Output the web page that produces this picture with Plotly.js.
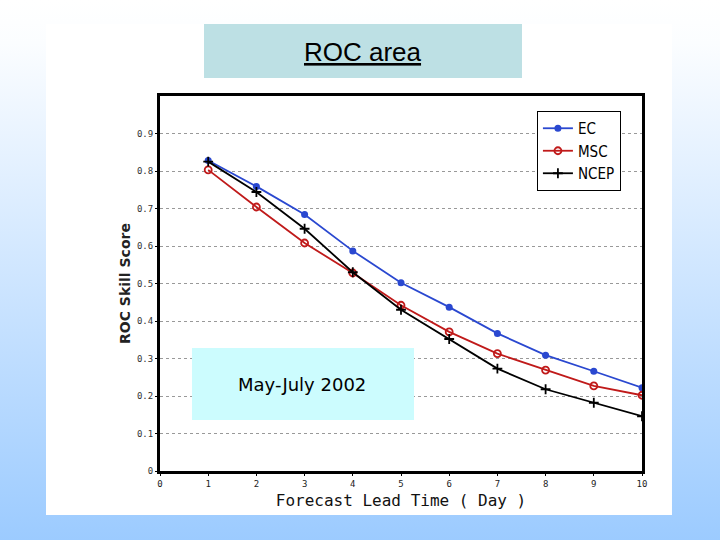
<!DOCTYPE html>
<html>
<head>
<meta charset="utf-8">
<script src="https://cdn.plot.ly/plotly-3.0.1.min.js"></script>
<style>
  html, body { margin: 0; padding: 0; }
  body { width: 720px; height: 540px; background: linear-gradient(to bottom, #ffffff 0%, #fbfdff 8%, #9ccbff 100%); }
  #chart { width: 720px; height: 540px; }
</style>
</head>
<body>
<div id="chart"></div>
<script>
// Data
const leadDays = [1, 2, 3, 4, 5, 6, 7, 8, 9, 10];
const ecScores   = [0.828, 0.759, 0.684, 0.587, 0.502, 0.437, 0.367, 0.309, 0.266, 0.222];
const mscScores  = [0.803, 0.704, 0.608, 0.528, 0.442, 0.371, 0.313, 0.269, 0.227, 0.202];
const ncepScores = [0.825, 0.744, 0.646, 0.530, 0.430, 0.352, 0.273, 0.218, 0.182, 0.146];
const seriesNames = ['EC', 'MSC', 'NCEP'];
const xTickVals = [0, 1, 2, 3, 4, 5, 6, 7, 8, 9, 10];
const yTickVals = [0, 0.1, 0.2, 0.3, 0.4, 0.5, 0.6, 0.7, 0.8, 0.9];
const yTickText = ['0', '0.1', '0.2', '0.3', '0.4', '0.5', '0.6', '0.7', '0.8', '0.9'];
const chartTitle = 'ROC area';
const periodLabel = 'May-July 2002';
const xTitle = 'Forecast Lead Time ( Day )';
const yTitle = 'ROC Skill Score';

const legendFont = {family: '"Liberation Sans Narrow", "Arial Narrow", "DejaVu Sans Condensed", sans-serif', size: 15, color: '#000'};

const traces = [
  {
    x: leadDays, y: ecScores, name: seriesNames[0], mode: 'lines+markers',
    line: {color: '#2a48d0', width: 1.8},
    marker: {symbol: 'circle', size: 7, color: '#2a48d0'}
  },
  {
    x: leadDays, y: mscScores, name: seriesNames[1], mode: 'lines+markers',
    line: {color: '#c01a1a', width: 1.8},
    marker: {symbol: 'circle-open', size: 7, color: '#c01a1a', line: {width: 1.8}}
  },
  {
    x: leadDays, y: ncepScores, name: seriesNames[2], mode: 'lines+markers',
    line: {color: '#000000', width: 1.8},
    marker: {symbol: 'cross-thin-open', size: 7, color: '#000000', line: {width: 1.8}}
  }
];

const layout = {
  width: 720, height: 540,
  margin: {l: 160, r: 78, t: 96, b: 69, pad: 0},
  paper_bgcolor: 'rgba(0,0,0,0)',
  plot_bgcolor: '#ffffff',
  showlegend: true,
  legend: {
    x: 0.782, y: 0.96, xanchor: 'left', yanchor: 'top',
    bgcolor: '#ffffff', bordercolor: '#000000', borderwidth: 1,
    font: legendFont, tracegroupgap: 0, itemwidth: 30
  },
  xaxis: {
    range: [0, 10], tickvals: xTickVals, ticktext: xTickVals.map(String),
    showgrid: false, zeroline: false,
    showline: true, mirror: true, linecolor: '#000', linewidth: 3,
    ticks: 'outside', ticklen: 2, tickcolor: '#000',
    tickfont: {family: 'DejaVu Sans Mono, monospace', size: 9, color: '#222'},
    title: {text: xTitle, font: {family: '"DejaVu Sans Mono", monospace', size: 16, color: '#111'}, standoff: 8}
  },
  yaxis: {
    range: [0, 1], tickvals: yTickVals, ticktext: yTickText,
    showgrid: true, gridcolor: '#999', griddash: 'dot', gridwidth: 1,
    zeroline: false,
    showline: true, mirror: true, linecolor: '#000', linewidth: 3,
    ticks: 'outside', ticklen: 2, tickcolor: '#000',
    tickfont: {family: 'DejaVu Sans Mono, monospace', size: 9, color: '#333'},
    title: {text: '<b>' + yTitle + '</b>', font: {family: '"DejaVu Sans", sans-serif', size: 14, color: '#222'}, standoff: 4}
  },
  shapes: [
    {type: 'rect', xref: 'paper', yref: 'paper', x0: -0.2365, x1: 1.0622, y0: -0.1173, y1: 1.192,
     fillcolor: '#ffffff', line: {width: 0}, layer: 'below'},
    {type: 'rect', xref: 'paper', yref: 'paper', x0: 0.0913, x1: 0.751, y0: 1.048, y1: 1.192,
     fillcolor: '#bde0e4', line: {width: 0}, layer: 'below'},
    {type: 'rect', xref: 'paper', yref: 'paper', x0: 0.0664, x1: 0.527, y0: 0.136, y1: 0.328,
     fillcolor: '#ccfcfe', line: {width: 0}, layer: 'above'}
  ],
  annotations: [
    {xref: 'paper', yref: 'paper', x: 0.421, y: 1.117, xanchor: 'center', yanchor: 'middle',
     text: '<u>' + chartTitle + '</u>', showarrow: false,
     font: {family: '"Liberation Sans Narrow", "Arial Narrow", "Liberation Sans", sans-serif', size: 26, color: '#000'}},
    {xref: 'paper', yref: 'paper', x: 0.295, y: 0.232, xanchor: 'center', yanchor: 'middle',
     text: periodLabel, showarrow: false,
     font: {family: '"DejaVu Sans", sans-serif', size: 18, color: '#000'}}
  ]
};

Plotly.newPlot('chart', traces, layout, {displayModeBar: false, staticPlot: true});
</script>
</body>
</html>
